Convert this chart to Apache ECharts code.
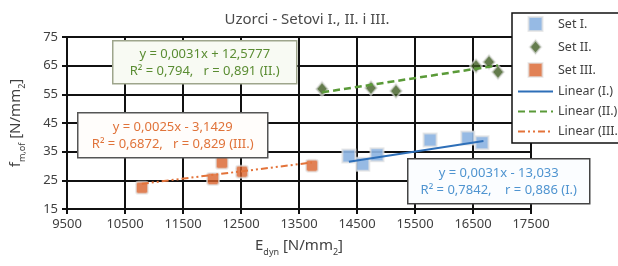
<!DOCTYPE html>
<html>
<head>
<meta charset="utf-8">
<script src="https://cdn.jsdelivr.net/npm/echarts@6/dist/echarts.min.js"></script>
<style>
  html, body { margin: 0; padding: 0; background: #fff; }
  #chart { width: 618px; height: 266px; }
</style>
</head>
<body>
<div id="chart"></div>
<script>
// measured points [E_dyn, f_m,of]
const setI = [[14360, 33.5], [14600, 30.6], [14845, 33.9], [15760, 39.1], [16410, 39.8], [16655, 38.1]];
const setII = [[13897, 56.9], [14741, 57.2], [15172, 56.2], [16552, 64.9], [16776, 66.3], [16931, 62.8]];
const setIII = [[10793, 22.4], [12017, 25.5], [12172, 31.1], [12517, 28.0], [13724, 30.1]];

// trend line end points
const trendI = [[14360, 31.5], [16680, 38.7]];
const trendII = [[13900, 55.7], [16930, 65.1]];
const trendIII = [[10790, 23.8], [13720, 31.2]];

const seriesNames = ['Set I.', 'Set II.', 'Set III.', 'Linear (I.)', 'Linear (II.)', 'Linear (III.)'];

const xTicks = { min: 9500, max: 17500, step: 1000 };
const yTicks = { min: 15, max: 75, step: 10 };

const FONT = 'Noto Sans';
const C_BLUE = '#8db4e2', C_BLUE_LINE = '#2e6fb8';
const C_GREEN = '#3d5b21', C_GREEN_LINE = '#5a9a38';
const C_ORANGE = '#d9622b', C_ORANGE_LINE = '#e3733a';

const ICON_SQUARE = 'path://M0,0h10v10h-10z';
const ICON_DIAMOND = 'path://M5,0L10,6L5,12L0,6z';
const ICON_RSQUARE = 'path://M2,0h6a2,2 0 0 1 2,2v6a2,2 0 0 1 -2,2h-6a2,2 0 0 1 -2,-2v-6a2,2 0 0 1 2,-2z';

const chart = echarts.init(document.getElementById('chart'), null, { renderer: 'canvas' });

// annotation box: rect + two centered lines
function eqBox(x, y, w, h, lines, color, border, fill) {
  const font = '13px "' + FONT + '"';
  return {
    type: 'group',
    left: x, top: y, z: 100,
    children: [
      { type: 'rect', z: 100, shape: { x: 0, y: 0, width: w, height: h },
        style: { fill: fill, stroke: border, lineWidth: 1.5 } },
      { type: 'text', z: 101, x: w / 2, y: h / 2 - 8,
        style: { text: lines[0], fill: color, font: font, textAlign: 'center', textVerticalAlign: 'middle' } },
      { type: 'text', z: 101, x: w / 2, y: h / 2 + 9,
        style: { text: lines[1], fill: color, font: font, textAlign: 'center', textVerticalAlign: 'middle' } }
    ]
  };
}

const markerBorder = { borderColor: 'rgba(225,225,225,0.8)', borderWidth: 2 };
const axisName = {
  rich: {
    b: { fontSize: 15, color: '#404040', lineHeight: 22, fontFamily: FONT },
    s: { fontSize: 9, color: '#404040', lineHeight: 10, verticalAlign: 'bottom', fontFamily: FONT }
  }
};
const axisCommon = {
  axisLine: { show: true, lineStyle: { color: '#111', width: 2 } },
  axisTick: { show: true, length: 5, lineStyle: { color: '#111', width: 2 } },
  axisLabel: { fontSize: 13, color: '#404040', margin: 9, formatter: v => String(v) },
  splitLine: { show: true, lineStyle: { color: '#111', width: 2 } }
};

const option = {
  backgroundColor: '#fff',
  animation: false,
  textStyle: { fontFamily: FONT },
  title: {
    text: 'Uzorci - Setovi I., II. i III.',
    left: 302, top: 7, textAlign: 'center',
    textStyle: { fontSize: 15, fontWeight: 'normal', color: '#4a4a4a', fontFamily: FONT }
  },
  legend: {
    orient: 'vertical',
    left: 512, top: 13,
    padding: [3, 80, 5, 5],
    itemWidth: 35, itemHeight: 14, itemGap: 7,
    symbolKeepAspect: true,
    backgroundColor: '#fff',
    borderColor: '#111', borderWidth: 1.5,
    textStyle: { fontSize: 12.5, color: '#404040', fontFamily: FONT },
    data: [
      { name: seriesNames[0], icon: ICON_SQUARE },
      { name: seriesNames[1], icon: ICON_DIAMOND },
      { name: seriesNames[2], icon: ICON_SQUARE },
      { name: seriesNames[3], itemStyle: { opacity: 0 } },
      { name: seriesNames[4], itemStyle: { opacity: 0 } },
      { name: seriesNames[5], itemStyle: { opacity: 0 } }
    ]
  },
  grid: { left: 67, right: 87, top: 37, bottom: 57, outerBoundsMode: 'none' },
  xAxis: Object.assign({
    type: 'value',
    min: xTicks.min, max: xTicks.max, interval: xTicks.step,
    name: '{b|E}{s|dyn}{b| [N/mm}{s|2}{b|]}',
    nameLocation: 'middle', nameGap: 26,
    nameTextStyle: axisName
  }, axisCommon),
  yAxis: Object.assign({
    type: 'value',
    min: yTicks.min, max: yTicks.max, interval: yTicks.step,
    name: '{b|f}{s|m,of}{b| [N/mm}{s|2}{b|]}',
    nameLocation: 'middle', nameGap: 40, nameRotate: 90,
    nameTextStyle: axisName
  }, axisCommon),
  series: [
    { name: seriesNames[0], type: 'scatter', data: setI, symbol: ICON_SQUARE, symbolSize: 13,
      z: 5, itemStyle: Object.assign({ color: C_BLUE, opacity: 0.92 }, markerBorder) },
    { name: seriesNames[1], type: 'scatter', data: setII, symbol: ICON_DIAMOND, symbolSize: [12, 14],
      z: 5, itemStyle: Object.assign({ color: C_GREEN }, markerBorder) },
    { name: seriesNames[2], type: 'scatter', data: setIII, symbol: ICON_RSQUARE, symbolSize: 12,
      z: 5, itemStyle: Object.assign({ color: C_ORANGE }, markerBorder) },
    { name: seriesNames[3], type: 'line', data: trendI, symbol: 'none', z: 6,
      lineStyle: { color: C_BLUE_LINE, width: 2 }, itemStyle: { color: C_BLUE_LINE } },
    { name: seriesNames[4], type: 'line', data: trendII, symbol: 'none', z: 6,
      lineStyle: { color: C_GREEN_LINE, width: 2.5, type: [7, 4] }, itemStyle: { color: C_GREEN_LINE } },
    { name: seriesNames[5], type: 'line', data: trendIII, symbol: 'none', z: 6,
      lineStyle: { color: C_ORANGE_LINE, width: 2, type: [7, 3, 2, 3, 2, 3] }, itemStyle: { color: C_ORANGE_LINE } }
  ],
  graphic: [
    eqBox(112, 40, 184, 43, ['y = 0,0031x + 12,5777', 'R² = 0,794,   r = 0,891 (II.)'],
      '#5a8c32', '#9ea58c', '#f8faf3'),
    eqBox(77, 112, 190, 45, ['y = 0,0025x - 3,1429', 'R² = 0,6872,   r = 0,829 (III.)'],
      '#e0733a', '#555', '#fffdfb'),
    eqBox(407, 158, 182, 45, ['y = 0,0031x - 13,033', 'R² = 0,7842,    r = 0,886 (I.)'],
      '#4f94d0', '#444', '#fbfdff')
  ]
};

chart.setOption(option);
window.addEventListener('resize', () => chart.resize());
</script>
</body>
</html>
